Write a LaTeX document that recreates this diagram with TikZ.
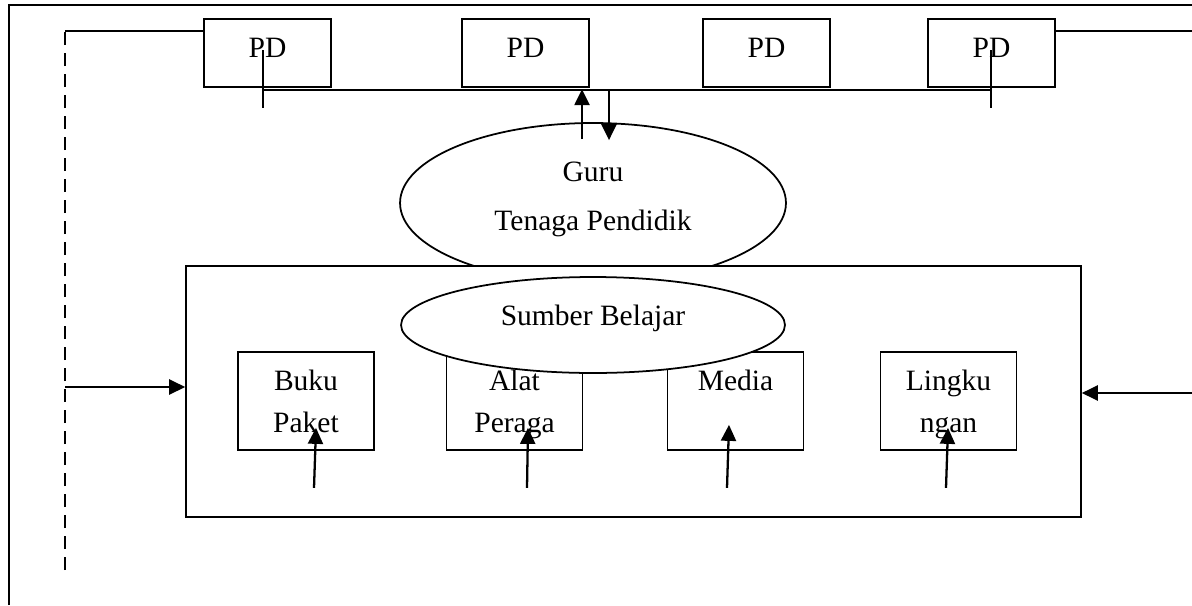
\documentclass[tikz,border=0pt]{standalone}
\usepackage{fontspec}
\setmainfont{Liberation Serif}
\usetikzlibrary{shapes,arrows.meta,calc,positioning}

\tikzset{
	garis/.style={line width=1pt},
	pdbox/.style={draw, garis, minimum width=2.54cm, minimum height=1.36cm, inner sep=0pt, text depth=0.19cm},
	kotak/.style={draw, garis, minimum width=2.72cm, minimum height=1.96cm, inner sep=0pt, align=center, text depth=0pt},
	panah/.style={line width=1.3pt, -{Triangle[length=0.32cm,width=0.3cm]}},
}

\begin{document}
\begin{tikzpicture}[x=0.02cm, y=-0.02cm, font=\fontsize{16.8}{23.9}\selectfont]
	\useasboundingbox (0,0) rectangle (1192,605);
	% bingkai luar
	\draw[line width=1.3pt] (9,605) -- (9,5) -- (1192,5);

	% peserta didik
	\node[pdbox] (pd1) at (267.5,53) {PD};
	\node[pdbox] (pd2) at (525.5,53) {PD};
	\node[pdbox] (pd3) at (766.5,53) {PD};
	\node[pdbox] (pd4) at (991.5,53) {PD};

	\coordinate (ka) at (65,31);
	\coordinate (kb) at (65,570);
	\coordinate (kn) at (1192,31);
	\draw[garis, dash pattern=on 0.26cm off 0.16cm] (kb) -- (ka);
	\draw[garis] (ka) -- (ka -| pd1.west);
	\draw[garis] (pd4.east |- kn) -- (kn);

	\coordinate (b1) at (263,90);
	\coordinate (b2) at (991,90);
	\draw[garis] (b1) -- (b2);
	\draw[garis] ($(b1)+(0,-40)$) -- ($(b1)+(0,18)$);
	\draw[garis] ($(b2)+(0,-40)$) -- ($(b2)+(0,18)$);

	% guru
	\node[draw, ellipse, garis, minimum width=7.72cm, minimum height=3.2cm, inner sep=0pt, align=center, text depth=0.26cm] (guru) at (593,203) {Guru\\[0.14cm]Tenaga Pendidik};

	\draw[panah] ($(guru.north)+(-11,17)$) -- ($(guru.north)+(-11,-33)$);
	\draw[panah] ($(guru.north)+(16,-33)$) -- ($(guru.north)+(16,18)$);

	% sumber belajar
	\node[draw, garis, fill=white, minimum width=17.9cm, minimum height=5.02cm, inner sep=0pt] (belajar) at (633.5,391.5) {};

	\node[kotak] (buku) at (306,401) {Buku\\Paket};
	\node[kotak] (alat) at (514.5,401) {Alat\\Peraga};
	\node[kotak] (media) at (735.5,401) {Media\\~};
	\node[kotak] (lingkungan) at (948.5,401) {Lingku\\ngan};

	\node[draw, ellipse, garis, fill=white, minimum width=7.68cm, minimum height=1.92cm, inner sep=0pt, text depth=0.4cm] (sumber) at (593,325) {Sumber Belajar};

	\draw[panah] ($(buku.south)+(8,37)$) -- ($(buku.south)+(10,-23)$);
	\draw[panah] ($(alat.south)+(12.5,37)$) -- ($(alat.south)+(13.5,-23)$);
	\draw[panah] ($(media.south)+(-8.5,37)$) -- ($(media.south)+(-6.5,-26)$);
	\draw[panah] ($(lingkungan.south)+(-2.5,37)$) -- ($(lingkungan.south)+(-0.5,-23)$);

	\coordinate (kiri) at (65,387);
	\coordinate (kanan) at (1192,393);
	\draw[panah] (kiri) -- (kiri -| belajar.west);
	\draw[panah] (kanan) -- (kanan -| belajar.east);
\end{tikzpicture}
\end{document}
